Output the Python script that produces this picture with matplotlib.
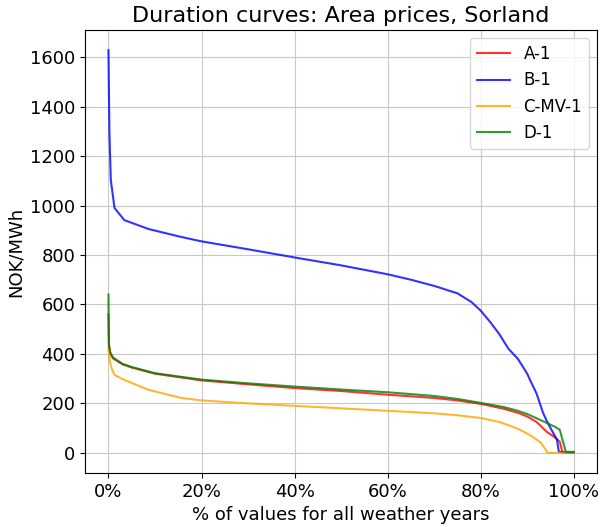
import numpy as np
import matplotlib.pyplot as plt
from matplotlib.ticker import PercentFormatter

# duration curve points (x in % of values, y in NOK/MWh)
x_a = [0, 0.1, 0.4, 1, 3, 5, 10, 20, 30, 40, 50, 60, 70, 75, 80, 85, 88, 90, 92, 94.2, 96, 97, 97.6, 100]
y_a = [560, 430, 400, 382, 358, 345, 320, 293, 277, 262, 250, 235, 222, 212, 198, 178, 162, 147, 125, 85, 62, 45, 0, 0]

x_b = [0, 0.2, 0.5, 1.3, 3.4, 8.6, 15.6, 20, 30, 40, 50, 60, 65, 70, 75, 78, 80, 82, 84, 86, 88, 90, 90.6, 92, 93.4, 94.4, 96.4, 96.8, 100]
y_b = [1628, 1300, 1103, 990, 941, 905, 873, 855, 823, 790, 758, 722, 700, 675, 645, 610, 575, 530, 480, 420, 380, 320, 295, 240, 162, 121, 53, 4, 0]

x_c = [0, 0.3, 0.7, 1.3, 3.4, 8.6, 15.6, 20, 30, 40, 50, 60, 70, 75, 80, 84, 87, 89, 91.2, 93, 94.4, 100]
y_c = [420, 370, 340, 315, 295, 255, 222, 212, 200, 190, 180, 170, 160, 152, 141, 125, 105, 88, 65, 40, 0, 0]

x_d = [0, 0.1, 0.4, 1, 3, 5, 10, 20, 30, 40, 50, 60, 70, 75, 80, 85, 88, 90, 92, 94.2, 96, 97, 98.3, 100]
y_d = [640, 440, 405, 385, 360, 347, 322, 296, 281, 268, 256, 245, 230, 218, 202, 185, 170, 157, 140, 121, 105, 93, 4, 4]

fig = plt.figure(figsize=(6, 5.27), dpi=100)
ax = fig.add_axes([0.142, 0.1025, 0.853, 0.8405])

ax.plot(x_a, y_a, color='red', alpha=0.8, label='A-1')
ax.plot(x_b, y_b, color='blue', alpha=0.8, label='B-1')
ax.plot(x_c, y_c, color='orange', alpha=0.8, label='C-MV-1')
ax.plot(x_d, y_d, color='green', alpha=0.8, label='D-1')

ax.xaxis.set_major_formatter(PercentFormatter(100, decimals=0))
ax.set_xticks([0, 20, 40, 60, 80, 100])
ax.set_yticks(range(0, 1601, 200))
ax.tick_params(labelsize=13)
ax.grid(True, color='#c8c8c8')
ax.set_title('Duration curves: Area prices, Sorland', fontsize=16)
ax.set_xlabel('% of values for all weather years', fontsize=13)
ax.set_ylabel('NOK/MWh', fontsize=13)
ax.legend(loc='upper right', fontsize=12)

fig.savefig('out.png')
